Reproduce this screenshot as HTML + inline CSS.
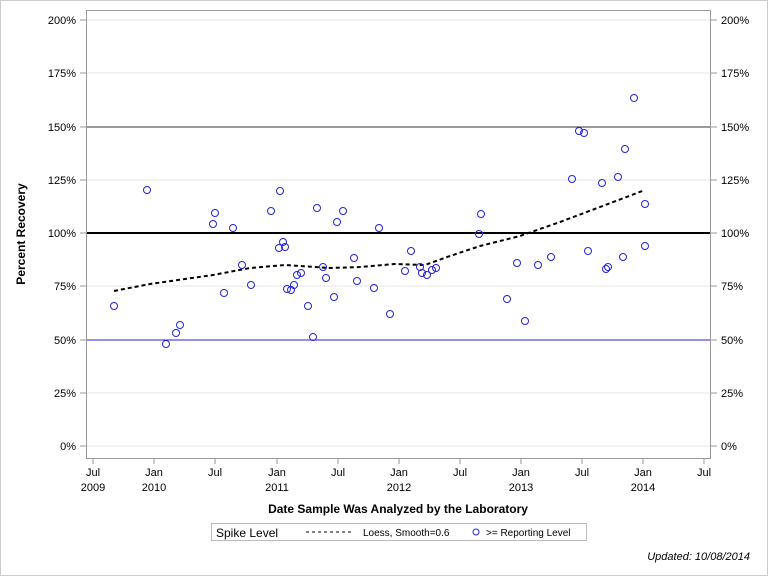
<!DOCTYPE html>
<html><head><style>body{margin:0}svg{display:block}text{font-family:"Liberation Sans",sans-serif}</style></head><body>
<svg width="768" height="576" xmlns="http://www.w3.org/2000/svg">
<rect x="0.5" y="0.5" width="767" height="575" fill="#fff" stroke="#ccc"/>
<g stroke="#e6e6e6">
<line x1="86" x2="711" y1="20" y2="20"/><line x1="86" x2="711" y1="73" y2="73"/><line x1="86" x2="711" y1="180" y2="180"/><line x1="86" x2="711" y1="286" y2="286"/><line x1="86" x2="711" y1="393" y2="393"/><line x1="86" x2="711" y1="446" y2="446"/>
</g>
<line x1="86" x2="711" y1="127" y2="127" stroke="#333"/>
<line x1="86" x2="711" y1="233" y2="233" stroke="#000" stroke-width="2"/>
<line x1="86" x2="711" y1="340" y2="340" stroke="#2222dd"/>
<rect x="86.5" y="10.5" width="624" height="448" fill="none" stroke="#999"/>
<g font-size="11" fill="#000">
<g text-anchor="end">
<text x="76" y="24">200%</text><text x="76" y="77">175%</text><text x="76" y="131">150%</text><text x="76" y="184">125%</text><text x="76" y="237">100%</text><text x="76" y="290">75%</text><text x="76" y="344">50%</text><text x="76" y="397">25%</text><text x="76" y="450">0%</text>
</g>
<text x="721" y="24">200%</text><text x="721" y="77">175%</text><text x="721" y="131">150%</text><text x="721" y="184">125%</text><text x="721" y="237">100%</text><text x="721" y="290">75%</text><text x="721" y="344">50%</text><text x="721" y="397">25%</text><text x="721" y="450">0%</text>
</g>
<g stroke="#999">
<line x1="80" x2="86" y1="20" y2="20"/><line x1="80" x2="86" y1="73" y2="73"/><line x1="80" x2="86" y1="127" y2="127"/><line x1="80" x2="86" y1="180" y2="180"/><line x1="80" x2="86" y1="233" y2="233"/><line x1="80" x2="86" y1="286" y2="286"/><line x1="80" x2="86" y1="340" y2="340"/><line x1="80" x2="86" y1="393" y2="393"/><line x1="80" x2="86" y1="446" y2="446"/>
<line x1="711" x2="717" y1="20" y2="20"/><line x1="711" x2="717" y1="73" y2="73"/><line x1="711" x2="717" y1="127" y2="127"/><line x1="711" x2="717" y1="180" y2="180"/><line x1="711" x2="717" y1="233" y2="233"/><line x1="711" x2="717" y1="286" y2="286"/><line x1="711" x2="717" y1="340" y2="340"/><line x1="711" x2="717" y1="393" y2="393"/><line x1="711" x2="717" y1="446" y2="446"/>
<line x1="93" x2="93" y1="458" y2="464"/><line x1="154" x2="154" y1="458" y2="464"/><line x1="215" x2="215" y1="458" y2="464"/><line x1="277" x2="277" y1="458" y2="464"/><line x1="338" x2="338" y1="458" y2="464"/><line x1="399" x2="399" y1="458" y2="464"/><line x1="460" x2="460" y1="458" y2="464"/><line x1="521" x2="521" y1="458" y2="464"/><line x1="582" x2="582" y1="458" y2="464"/><line x1="643" x2="643" y1="458" y2="464"/><line x1="704" x2="704" y1="458" y2="464"/>
</g>
<g font-size="11" text-anchor="middle">
<text x="93" y="476">Jul</text><text x="154" y="476">Jan</text><text x="215" y="476">Jul</text><text x="277" y="476">Jan</text><text x="338" y="476">Jul</text><text x="399" y="476">Jan</text><text x="460" y="476">Jul</text><text x="521" y="476">Jan</text><text x="582" y="476">Jul</text><text x="643" y="476">Jan</text><text x="704" y="476">Jul</text>
<text x="93" y="491">2009</text><text x="154" y="491">2010</text><text x="277" y="491">2011</text><text x="399" y="491">2012</text><text x="521" y="491">2013</text><text x="643" y="491">2014</text>
</g>
<text x="398" y="513" font-size="12" font-weight="bold" text-anchor="middle">Date Sample Was Analyzed by the Laboratory</text>
<text transform="translate(25,234) rotate(-90)" font-size="12" font-weight="bold" text-anchor="middle">Percent Recovery</text>
<polyline fill="none" stroke="#000" stroke-width="2" stroke-dasharray="4,3" points="114,291 150,284 213,275 250,268 285,265 300,266 330,268 360,267 395,264 425,265 450,256 480,246 520,236 560,222 600,207 645,190"/>
<g fill="none" stroke="#2222dd" stroke-width="1">
<circle cx="114" cy="306" r="3.5"/><circle cx="147" cy="190" r="3.5"/><circle cx="166" cy="344" r="3.5"/><circle cx="176" cy="333" r="3.5"/><circle cx="180" cy="325" r="3.5"/><circle cx="213" cy="224" r="3.5"/><circle cx="215" cy="213" r="3.5"/><circle cx="224" cy="293" r="3.5"/><circle cx="233" cy="228" r="3.5"/><circle cx="242" cy="265" r="3.5"/><circle cx="251" cy="285" r="3.5"/><circle cx="271" cy="211" r="3.5"/><circle cx="279" cy="248" r="3.5"/><circle cx="280" cy="191" r="3.5"/><circle cx="283" cy="242" r="3.5"/><circle cx="285" cy="247" r="3.5"/><circle cx="287" cy="289" r="3.5"/><circle cx="291" cy="290" r="3.5"/><circle cx="294" cy="285" r="3.5"/><circle cx="297" cy="275" r="3.5"/><circle cx="301" cy="273" r="3.5"/><circle cx="308" cy="306" r="3.5"/><circle cx="313" cy="337" r="3.5"/><circle cx="317" cy="208" r="3.5"/><circle cx="323" cy="267" r="3.5"/><circle cx="326" cy="278" r="3.5"/><circle cx="334" cy="297" r="3.5"/><circle cx="337" cy="222" r="3.5"/><circle cx="343" cy="211" r="3.5"/><circle cx="354" cy="258" r="3.5"/><circle cx="357" cy="281" r="3.5"/><circle cx="374" cy="288" r="3.5"/><circle cx="379" cy="228" r="3.5"/><circle cx="390" cy="314" r="3.5"/><circle cx="405" cy="271" r="3.5"/><circle cx="411" cy="251" r="3.5"/><circle cx="420" cy="267" r="3.5"/><circle cx="422" cy="273" r="3.5"/><circle cx="427" cy="275" r="3.5"/><circle cx="432" cy="270" r="3.5"/><circle cx="436" cy="268" r="3.5"/><circle cx="479" cy="234" r="3.5"/><circle cx="481" cy="214" r="3.5"/><circle cx="507" cy="299" r="3.5"/><circle cx="517" cy="263" r="3.5"/><circle cx="525" cy="321" r="3.5"/><circle cx="538" cy="265" r="3.5"/><circle cx="551" cy="257" r="3.5"/><circle cx="572" cy="179" r="3.5"/><circle cx="579" cy="131" r="3.5"/><circle cx="584" cy="133" r="3.5"/><circle cx="588" cy="251" r="3.5"/><circle cx="602" cy="183" r="3.5"/><circle cx="606" cy="269" r="3.5"/><circle cx="608" cy="267" r="3.5"/><circle cx="618" cy="177" r="3.5"/><circle cx="623" cy="257" r="3.5"/><circle cx="625" cy="149" r="3.5"/><circle cx="634" cy="98" r="3.5"/><circle cx="645" cy="204" r="3.5"/><circle cx="645" cy="246" r="3.5"/>
</g>
<rect x="211.5" y="523.5" width="375" height="17" fill="none" stroke="#bbb"/>
<text x="216" y="537" font-size="12">Spike Level</text>
<line x1="306" x2="354" y1="532" y2="532" stroke="#000" stroke-dasharray="3,3"/>
<text x="363" y="536" font-size="10">Loess, Smooth=0.6</text>
<circle cx="476" cy="532" r="3" fill="none" stroke="#2222dd"/>
<text x="486" y="536" font-size="10">&gt;= Reporting Level</text>
<text x="750" y="560" font-size="11" font-style="italic" text-anchor="end">Updated: 10/08/2014</text>
</svg>
</body></html>
